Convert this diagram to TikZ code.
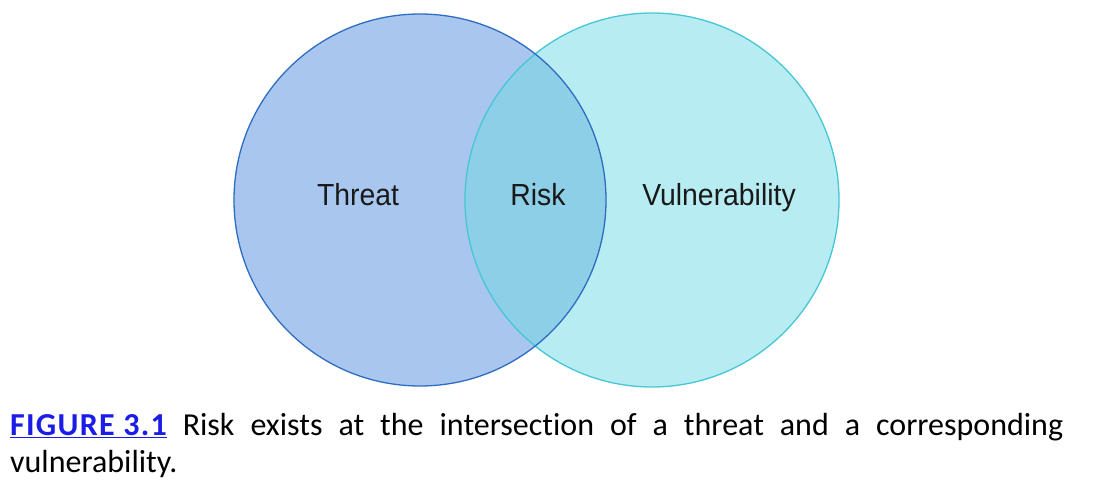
\documentclass[tikz,border=0pt]{standalone}
\usepackage{fontspec}
\setmainfont[Ligatures={NoCommon}]{Carlito}
\newfontfamily\labelfont[FakeStretch=0.93]{Liberation Sans}
\definecolor{threatfill}{HTML}{A9C7EE}
\definecolor{threatline}{HTML}{2E6CC2}
\definecolor{vulnfill}{HTML}{B6ECF2}
\definecolor{vulnline}{HTML}{46C6D6}
\definecolor{riskfill}{HTML}{8DCFE6}
\definecolor{figblue}{HTML}{1C1CE8}
\tikzset{
  lbl/.style={font=\labelfont\fontsize{30.5}{34}\selectfont, text=black!90, inner sep=0pt, anchor=base},
  captionbox/.style={font=\fontsize{32}{37}\selectfont, inner sep=0pt, anchor=north west, align=justify, text width=1053pt}
}
\begin{document}
\begin{tikzpicture}[x=1pt,y=-1pt]
\useasboundingbox (0,0) rectangle (1101,492);
\fill[white] (0,0) rectangle (1101,492);
% circles
\fill[threatfill] (420,200) circle (186);
\fill[vulnfill] (652,200) circle (187);
\begin{scope}
  \clip (420,200) circle (186);
  \fill[riskfill] (652,200) circle (187);
\end{scope}
\draw[vulnline, line width=1.3pt] (652,200) circle (187);
\draw[threatline, line width=1.3pt] (420,200) circle (186);
% labels
\node[lbl] (threat) at (358,205) {Threat};
\node[lbl] (risk) at (538,205) {Risk};
\node[lbl] (vuln) at (719,205) {Vulnerability};
% caption
\node[captionbox] (caption) at (10,413) {\textcolor{figblue}{\textbf{\addfontfeature{LetterSpace=4}\underline{FIGURE 3.1}}} Risk exists at the intersection of a threat and a corresponding\linebreak vulnerability.};
\end{tikzpicture}
\end{document}
